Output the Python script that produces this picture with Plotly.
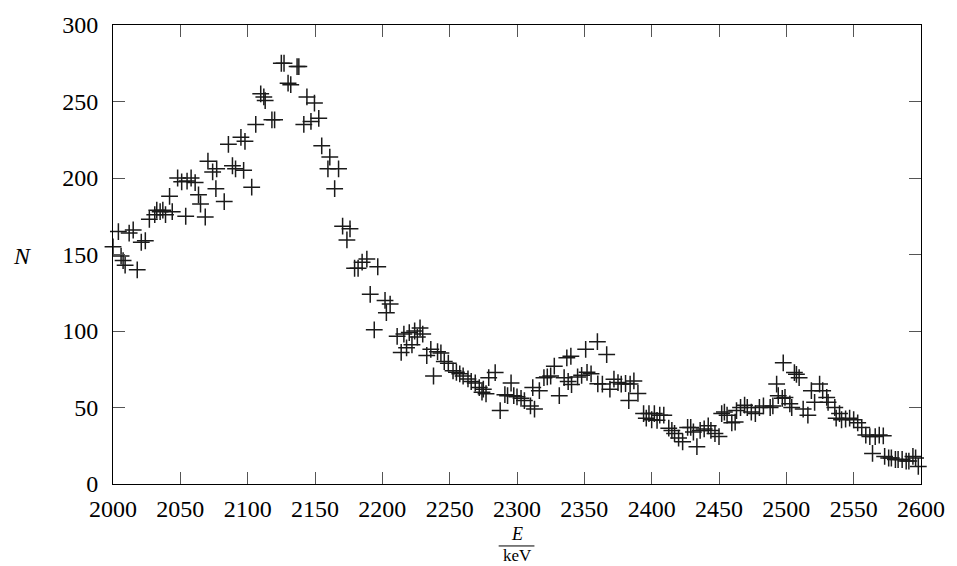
import plotly.graph_objects as go

# Energy (keV) and counts
energy = [
    2000, 2004, 2006, 2007.5, 2009, 2012, 2015, 2018, 2021, 2024,
    2027, 2031, 2032.5, 2035, 2037, 2039, 2042, 2044, 2048, 2051,
    2054, 2055, 2058, 2061, 2063.5, 2065, 2068.5, 2070.5, 2074, 2076.4,
    2077, 2082.6, 2085.7, 2088.7, 2091, 2095, 2097, 2098, 2103, 2106,
    2109.7, 2112, 2113, 2118, 2120, 2125, 2127, 2130, 2132, 2136.7,
    2138, 2141.7, 2144, 2147, 2149.6, 2152.8, 2155, 2159.6, 2161, 2164.6,
    2167.5, 2170.5, 2173.7, 2176, 2179.4, 2182, 2185, 2188.5, 2191, 2194,
    2196.6, 2202, 2203, 2205.8, 2211, 2214, 2216, 2218, 2220, 2222,
    2224, 2226, 2228, 2230, 2233, 2236, 2238, 2241, 2243.5, 2246,
    2249, 2252.5, 2255, 2257.5, 2260, 2263.6, 2266, 2269, 2272, 2274,
    2275, 2277, 2279, 2283.8, 2287.5, 2291, 2293, 2295.6, 2297.6, 2300,
    2303, 2305.5, 2310, 2311.7, 2313, 2316.6, 2320, 2322.5, 2325, 2327.7,
    2331.4, 2335, 2337, 2338, 2340, 2340.5, 2345, 2348, 2351, 2352,
    2355, 2359.7, 2360, 2363.4, 2366.6, 2369, 2372, 2375, 2377.4, 2380.6,
    2383, 2384, 2386.8, 2389.8, 2394, 2396, 2398, 2400, 2402, 2404,
    2406, 2409, 2412.7, 2415, 2417, 2420, 2423, 2426.7, 2429, 2431,
    2433.6, 2436, 2439, 2442, 2444, 2447, 2450, 2452, 2454, 2456,
    2459.5, 2462, 2463, 2466, 2469, 2471, 2474, 2477, 2480, 2483,
    2488, 2490, 2492.8, 2494, 2497, 2497.7, 2499, 2502.6, 2504, 2506,
    2507.5, 2509.5, 2512.5, 2516, 2518.6, 2521, 2524.7, 2527, 2530, 2531,
    2536, 2537, 2539.5, 2541, 2544, 2547, 2550, 2553, 2556, 2559,
    2562, 2564, 2566, 2569, 2572, 2573, 2576, 2578, 2581, 2583,
    2586, 2589, 2591, 2594, 2596, 2598,
]
counts = [
    155, 165, 149, 146, 143, 164, 166, 140, 158, 159,
    173, 176, 179, 178, 179, 176, 188, 178, 200, 197.5,
    175, 198, 200, 197, 189, 183, 174.5, 211, 204, 193,
    206, 184.6, 222, 208, 206, 226.6, 205, 224, 194, 235,
    255, 253, 250.6, 238, 238, 275, 275, 262, 261, 272.8,
    272.8, 235, 253, 237, 249, 239, 221, 206, 213.7, 193,
    206, 168.5, 159.5, 166.8, 141, 141, 145, 147, 124, 100.8,
    142, 120, 112, 117.6, 96.5, 86, 98, 89, 99, 91,
    100, 96, 102, 98, 84, 88, 70.6, 86.5, 85.7, 80,
    79, 74, 73, 72, 70.6, 68.7, 67, 66, 63, 60,
    62, 59, 69.5, 72.8, 48, 58.4, 57.7, 66, 57.7, 57,
    56, 54.5, 51, 63, 49, 61, 69.5, 70, 70.6, 77,
    57.7, 69.5, 82.5, 67, 83.5, 65, 70, 71, 88, 73,
    72, 93, 65.5, 65.3, 84.6, 62, 68.5, 66.3, 65.3, 65.7,
    54.5, 65.3, 67.4, 59.2, 46, 43, 46, 42, 46, 41.6,
    45, 45, 36.5, 35, 33, 30, 27.6, 37, 37, 34,
    24.4, 35, 36, 38, 35, 33, 31, 46, 47, 45,
    40, 40.5, 48, 50, 51.5, 50, 47, 46, 50, 51,
    50, 51, 65.3, 57.7, 56, 79.2, 56.6, 52.4, 50, 72.8,
    71.7, 69.5, 49, 45, 61, 53.4, 65.3, 61, 56.6, 53.4,
    50, 43, 46, 42, 42.5, 43, 42, 40, 37, 32,
    31, 20, 31, 32, 31.5, 18, 17, 17, 16, 16,
    16, 15, 15, 18, 17, 11.5,
]

x_ticks = [2000, 2050, 2100, 2150, 2200, 2250, 2300, 2350, 2400, 2450, 2500, 2550, 2600]
y_ticks = [0, 50, 100, 150, 200, 250, 300]

FONT = "Liberation Serif"

fig = go.Figure()
fig.add_trace(go.Scatter(
    x=energy, y=counts, mode="markers",
    marker=dict(symbol="cross-thin", size=12,
                line=dict(width=1.5, color="#1a1a1a"), color="#1a1a1a"),
    showlegend=False, cliponaxis=False,
))

axis_common = dict(
    showline=True, linecolor="black", linewidth=1, mirror="ticks",
    ticks="inside", ticklen=12, tickwidth=1, tickcolor="#555",
    showgrid=False, zeroline=False,
    tickfont=dict(family=FONT, size=24, color="black"),
)

fig.update_layout(
    width=957, height=566,
    margin=dict(l=113, r=32, t=19, b=82),
    paper_bgcolor="white", plot_bgcolor="white",
    xaxis=dict(range=[2000, 2600], tickvals=x_ticks,
               ticktext=[str(v) for v in x_ticks],
               ticklabelstandoff=3, **axis_common),
    yaxis=dict(range=[0, 300], tickvals=y_ticks,
               ticktext=[str(v) for v in y_ticks],
               ticklabelstandoff=9, **axis_common),
    annotations=[
        dict(text="<i>N</i>", xref="paper", yref="paper", x=-0.1125, y=0.497,
             showarrow=False, font=dict(family=FONT, size=24, color="black"),
             xanchor="center", yanchor="middle"),
        dict(text="<i>E</i>", xref="paper", yref="paper", x=0.5, y=-0.109,
             showarrow=False, font=dict(family=FONT, size=18, color="black"),
             xanchor="center", yanchor="middle"),
        dict(text="keV", xref="paper", yref="paper", x=0.5, y=-0.156,
             showarrow=False, font=dict(family=FONT, size=17, color="black"),
             xanchor="center", yanchor="middle"),
    ],
    shapes=[
        dict(type="line", xref="paper", yref="paper",
             x0=0.4773, x1=0.5216, y0=-0.135, y1=-0.135,
             line=dict(color="black", width=1)),
    ],
)

fig.write_html("out.html")
